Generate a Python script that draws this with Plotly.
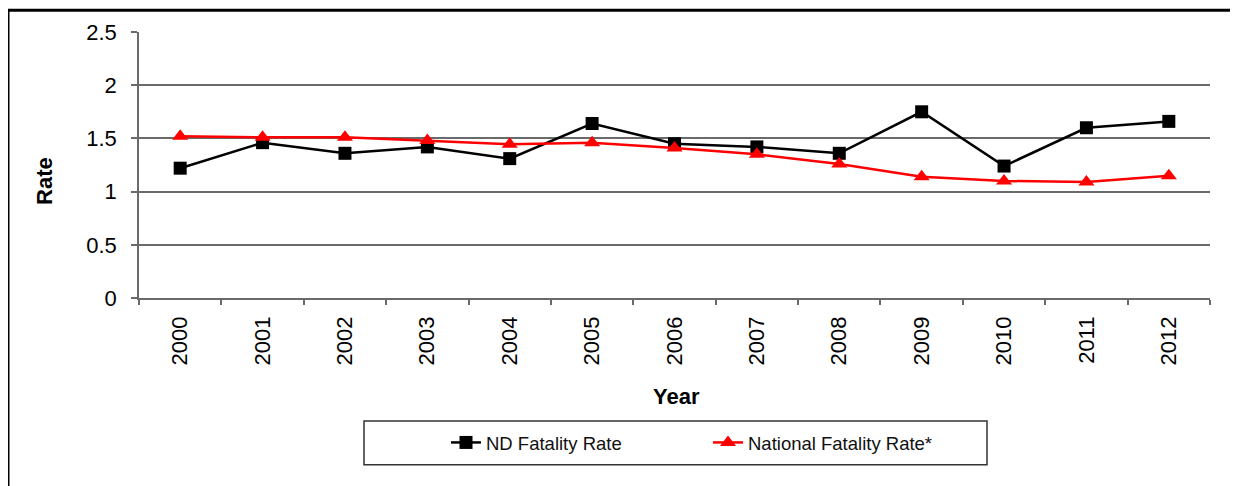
import plotly.graph_objects as go

years = ["2000", "2001", "2002", "2003", "2004", "2005", "2006",
         "2007", "2008", "2009", "2010", "2011", "2012"]
nd_rate = [1.22, 1.46, 1.36, 1.42, 1.31, 1.64, 1.45, 1.42, 1.36, 1.75, 1.24, 1.60, 1.66]
national_rate = [1.52, 1.51, 1.51, 1.48, 1.445, 1.46, 1.41, 1.35, 1.26, 1.14, 1.10, 1.09, 1.15]
y_ticks = [0, 0.5, 1, 1.5, 2, 2.5]
y_tick_text = ["0", "0.5", "1", "1.5", "2", "2.5"]

FONT = "Liberation Sans, Arial, sans-serif"
GRID = "#6a6a6a"

OFF = 8  # page body margin
W, H = 1238 - OFF, 486 - OFF
# plot area in screen pixels: x 139..1210, y 30..298
L, T = 139 - OFF, 30 - OFF
R = W - (1210 - OFF)
B = H - (298 - OFF)
PW, PH = W - L - R, H - T - B


def px(x):
    return (x - OFF - L) / PW


def py(y):
    return (H - B - (y - OFF)) / PH


fig = go.Figure()
fig.add_trace(go.Scatter(
    x=years, y=nd_rate, name="ND Fatality Rate", mode="lines+markers",
    line=dict(color="black", width=2.5),
    marker=dict(symbol="square", size=13, color="black"),
))
fig.add_trace(go.Scatter(
    x=years, y=national_rate, name="National Fatality Rate*", mode="lines+markers",
    line=dict(color="#ff0000", width=2.5),
    marker=dict(symbol="triangle-up", size=14, color="#ff0000"),
))

fig.update_layout(
    width=W, height=H, autosize=False,
    margin=dict(l=L, r=R, t=T, b=B, pad=0),
    plot_bgcolor="white", paper_bgcolor="white",
    font=dict(family=FONT, color="black"),
    showlegend=True,
    legend=dict(
        orientation="h", x=px(708), xanchor="center", y=py(444), yanchor="middle",
        font=dict(family=FONT, size=18.5, color="#111"),
        bgcolor="rgba(0,0,0,0)", borderwidth=0,
        entrywidth=217, entrywidthmode="pixels",
    ),
    xaxis=dict(
        type="category", range=[-0.5, 12.5],
        showgrid=False, showline=True, linecolor=GRID, linewidth=1.5,
        ticks="outside", ticklen=5, tickcolor=GRID, tickwidth=1.5,
        tickson="boundaries", tickangle=-90,
        tickfont=dict(family=FONT, size=22, color="black"),
        ticklabelstandoff=8,
    ),
    yaxis=dict(
        range=[0, 2.5], tickvals=y_ticks, ticktext=y_tick_text,
        showgrid=True, gridcolor=GRID, gridwidth=1.5,
        showline=True, linecolor=GRID, linewidth=1.5,
        ticks="outside", ticklen=6, tickcolor=GRID, tickwidth=1.5,
        tickfont=dict(family=FONT, size=22, color="black"),
        ticklabelstandoff=10, zeroline=False,
    ),
    annotations=[
        dict(text="<b>Year</b>", x=px(676), y=py(397), xref="paper", yref="paper",
             xanchor="center", yanchor="middle", showarrow=False,
             font=dict(family=FONT, size=22, color="black")),
        dict(text="<b>Rate</b>", x=px(45), y=py(180), xref="paper", yref="paper",
             xanchor="center", yanchor="middle", showarrow=False, textangle=-90,
             font=dict(family=FONT, size=22, color="black")),
    ],
    shapes=[
        # legend box
        dict(type="rect", xref="paper", yref="paper",
             x0=px(364), x1=px(987), y0=py(422), y1=py(466),
             line=dict(color="#333", width=1.5), fillcolor="rgba(0,0,0,0)"),
        # outer frame (top and left edges)
        dict(type="line", xref="paper", yref="paper",
             x0=px(7), x1=px(1240), y0=py(8), y1=py(8),
             line=dict(color="black", width=3)),
        dict(type="line", xref="paper", yref="paper",
             x0=px(8), x1=px(8), y0=py(7), y1=py(490),
             line=dict(color="black", width=3)),
    ],
)

fig.write_html("out.html")
